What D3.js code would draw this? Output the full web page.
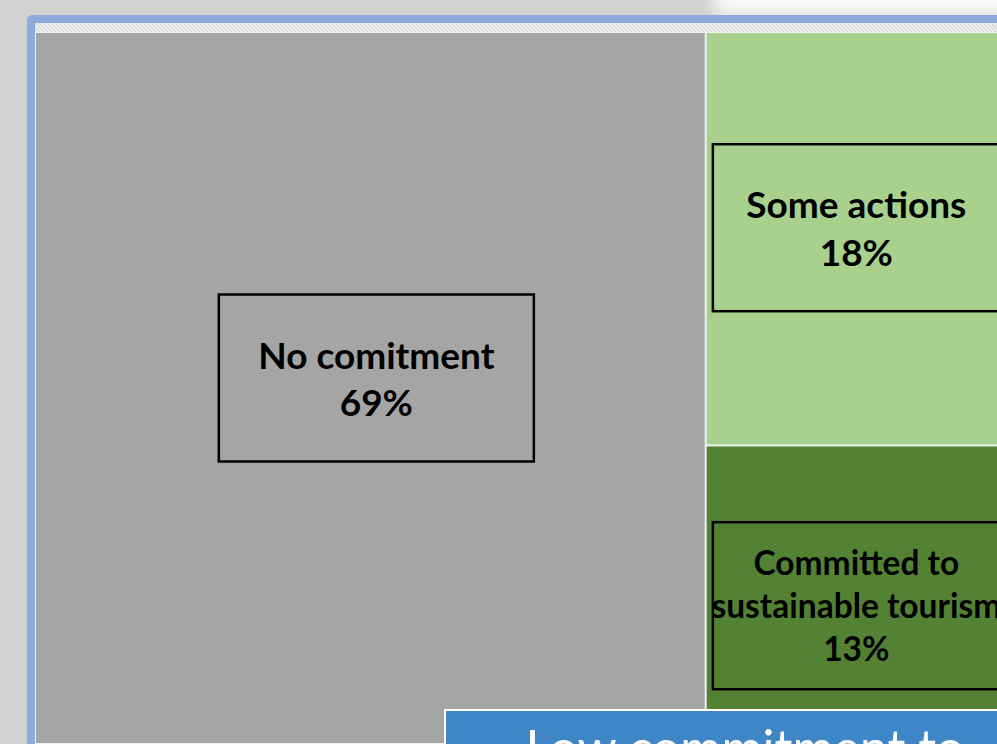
<!DOCTYPE html>
<html>
<head>
<meta charset="utf-8">
<script src="https://cdn.jsdelivr.net/npm/d3@7"></script>
<style>
  html, body { margin: 0; padding: 0; background: #d2d2d2; }
  svg { display: block; }
  .label { font-family: Lato, "Open Sans", sans-serif; font-weight: 700; fill: #000; text-anchor: middle; }
  .banner { font-family: Lato, "Open Sans", sans-serif; font-weight: 400; fill: #fff; text-anchor: middle; }
</style>
</head>
<body>
<div id="chart"></div>
<script>
// data
var categories = ["No comitment", "Some actions", "Committed to\nsustainable tourism"];
var shares = [69, 18, 13];
var fills = ["#a5a5a5", "#a9d18e", "#548235"];
var bannerText = "Low commitment to";

var width = 997, height = 744;

var svg = d3.select("#chart").append("svg")
    .attr("width", width)
    .attr("height", height);

var defs = svg.append("defs");

// soft white patch top right (slide background)
defs.append("filter").attr("id", "blur")
    .append("feGaussianBlur").attr("stdDeviation", 8);

var hatch = defs.append("pattern")
    .attr("id", "hatch")
    .attr("patternUnits", "userSpaceOnUse")
    .attr("width", 4).attr("height", 4);
hatch.append("rect").attr("width", 4).attr("height", 4).attr("fill", "#f5f5f5");
hatch.append("path")
    .attr("d", "M-1,-1 L5,5 M-1,3 L1,5 M3,-1 L5,1")
    .attr("stroke", "#d4d4d4").attr("stroke-width", 1.3);

svg.append("rect")
    .attr("width", width).attr("height", height)
    .attr("fill", "#d2d2d2");
svg.append("rect")
    .attr("x", 715).attr("y", -40)
    .attr("width", 420).attr("height", 55)
    .attr("fill", "#fafafa")
    .attr("filter", "url(#blur)");

// slide frame
svg.append("rect")
    .attr("x", 27).attr("y", 15)
    .attr("width", 1100).attr("height", 900)
    .attr("rx", 5)
    .attr("fill", "#8eaadb");
svg.append("rect")
    .attr("x", 35).attr("y", 23)
    .attr("width", 1100).attr("height", 900)
    .attr("fill", "#eef0f4");
svg.append("rect")
    .attr("x", 35).attr("y", 23)
    .attr("width", 1100).attr("height", 9)
    .attr("fill", "url(#hatch)");

// treemap
var margin = { left: 36, top: 33 };
var tmW = 970, tmH = 710;

var root = d3.hierarchy({
        children: categories.map(function (c, i) { return { name: c, value: shares[i], i: i }; })
    })
    .sum(function (d) { return d.value || 0; });

d3.treemap()
    .tile(d3.treemapSquarify)
    .size([tmW, tmH])
    .paddingInner(2)(root);

var g = svg.append("g")
    .attr("transform", "translate(" + margin.left + "," + margin.top + ")");

var cell = g.selectAll(".cell")
    .data(root.leaves())
  .enter().append("g")
    .attr("class", "cell");

cell.append("rect")
    .attr("x", function (d) { return d.x0; })
    .attr("y", function (d) { return d.y0; })
    .attr("width", function (d) { return d.x1 - d.x0; })
    .attr("height", function (d) { return d.y1 - d.y0; })
    .attr("fill", function (d) { return fills[d.data.i]; });

// label boxes, nudged from cell centres the way they sit in the picture
var boxOffset = [[6, -10], [14, -11], [14, 11]];
var textShift = [6, 0, 0];
var fontSize = [37, 37, 33.5];
var lineGap = [47, 48, 43];
var boxW = 315, boxH = 167;

cell.append("rect")
    .attr("x", function (d) { return (d.x0 + d.x1) / 2 + boxOffset[d.data.i][0] - boxW / 2; })
    .attr("y", function (d) { return (d.y0 + d.y1) / 2 + boxOffset[d.data.i][1] - boxH / 2; })
    .attr("width", boxW)
    .attr("height", boxH)
    .attr("fill", "none")
    .attr("stroke", "#000")
    .attr("stroke-width", 2.5);

cell.append("text")
    .attr("class", "label")
    .each(function (d) {
        var i = d.data.i;
        var lines = d.data.name.split("\n").concat([shares[i] + "%"]);
        var cx = (d.x0 + d.x1) / 2 + textShift[i];
        var cy = (d.y0 + d.y1) / 2 + boxOffset[i][1];
        var first = cy - (lines.length - 1) * lineGap[i] / 2 + fontSize[i] * 0.38;
        var t = d3.select(this).style("font-size", fontSize[i] + "px");
        lines.forEach(function (l, k) {
            t.append("tspan")
                .attr("x", cx)
                .attr("y", first + k * lineGap[i])
                .text(l);
        });
    });

// blue banner over the bottom
var banner = svg.append("g");
banner.append("rect")
    .attr("x", 445).attr("y", 710)
    .attr("width", 600).attr("height", 100)
    .attr("fill", "#3f86c6")
    .attr("stroke", "#ffffff")
    .attr("stroke-width", 2);
banner.append("text")
    .attr("class", "banner")
    .attr("x", 745).attr("y", 766)
    .style("font-size", "50px")
    .text(bannerText);
</script>
</body>
</html>
